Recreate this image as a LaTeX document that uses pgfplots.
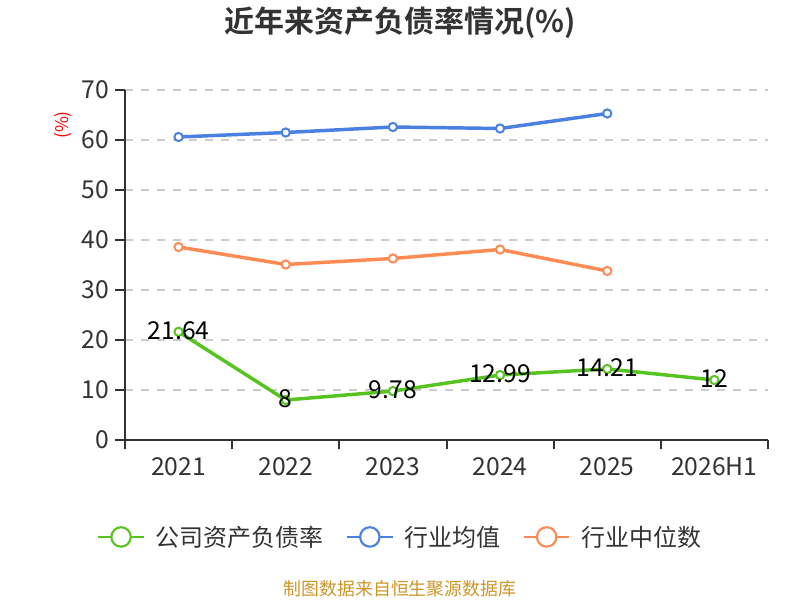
\documentclass[border=0pt]{standalone}
\usepackage{fontspec}
\setmainfont{Noto Sans CJK SC}[BoldFont={Noto Sans CJK SC Bold}]
\usepackage{pgfplots}
\pgfplotsset{compat=1.18}
\definecolor{cgreen}{RGB}{86,196,32}
\definecolor{cblue}{RGB}{74,128,226}
\definecolor{corange}{RGB}{255,139,84}
\definecolor{ctext}{RGB}{51,51,51}
\definecolor{cgrid}{RGB}{204,204,204}
\definecolor{csrc}{RGB}{204,150,40}
\begin{document}
\begin{tikzpicture}
\path[use as bounding box] (0,0) rectangle (600pt,450pt);
\begin{axis}[
  at={(93.75pt,120pt)}, anchor=south west,
  scale only axis, width=482.25pt, height=262.5pt,
  xmin=-0.5, xmax=5.5, ymin=0, ymax=70,
  xtick={0,1,2,3,4,5},
  xticklabels={2021,2022,2023,2024,2025,2026H1},
  minor xtick={-0.5,0.5,1.5,2.5,3.5,4.5,5.5},
  ytick={0,10,...,70},
  axis lines*=left,
  axis line style={draw=ctext, line width=1.5pt},
  tick align=outside,
  major tick length=7.5pt,
  minor tick length=7pt,
  major x tick style={draw=none},
  every tick/.style={draw=ctext, line width=1.5pt},
  ymajorgrids,
  major grid style={draw=cgrid, line width=1.2pt, dash pattern=on 6pt off 6pt},
  ticklabel style={font=\fontsize{18.5}{20}\selectfont, text=ctext},
  /pgf/number format/assume math mode=true,
  yticklabel style={xshift=-1pt},
  xticklabel style={yshift=-2pt},
  clip=false,
  legend columns=3,
  legend style={at={(axis description cs:0.4285,-0.277)}, anchor=center,
    draw=none, fill=none, font=\fontsize{18}{20}\selectfont, text=ctext,
    /tikz/every odd column/.append style={column sep=6pt},
    /tikz/every even column/.append style={column sep=15pt}},
  legend image code/.code={
    \draw[#1, mark=none, solid, line width=1.6pt] (0pt,0pt) -- (34pt,0pt);
    \draw[#1, mark=none, solid, line width=1.6pt, fill=white] (17pt,0pt) circle (7.3pt);
  },
]
\addplot[cgreen, line width=2.6pt, mark=*, mark size=3.1pt,
  mark options={fill=white, line width=1.5pt},
  nodes near coords, point meta=explicit symbolic,
  every node near coord/.append style={font=\fontsize{18.5}{20}\selectfont, text=black, anchor=center, yshift=1pt}]
  coordinates {(0,21.64)[21.64] (1,8)[8] (2,9.78)[9.78] (3,12.99)[12.99] (4,14.21)[14.21] (5,12)[12]};
\addlegendentry{公司资产负债率}
\addplot[cblue, line width=2.6pt, mark=*, mark size=3.1pt,
  mark options={fill=white, line width=1.5pt}]
  coordinates {(0,60.6) (1,61.5) (2,62.6) (3,62.3) (4,65.3)};
\addlegendentry{行业均值}
\addplot[corange, line width=2.6pt, mark=*, mark size=3.1pt,
  mark options={fill=white, line width=1.5pt}]
  coordinates {(0,38.6) (1,35.1) (2,36.3) (3,38.1) (4,33.8)};
\addlegendentry{行业中位数}
\end{axis}
\node[font=\bfseries\fontsize{22.5}{26}\selectfont, text=ctext] at (300pt,432.75pt) {近年来资产负债率情况(\%)};
\node[font=\fontsize{13}{15}\selectfont, text=red, rotate=90] at (47.25pt,356.25pt) {(\%)};
\node[font=\fontsize{13.4}{16}\selectfont, text=csrc] at (300pt,8.25pt) {制图数据来自恒生聚源数据库};
\end{tikzpicture}
\end{document}
